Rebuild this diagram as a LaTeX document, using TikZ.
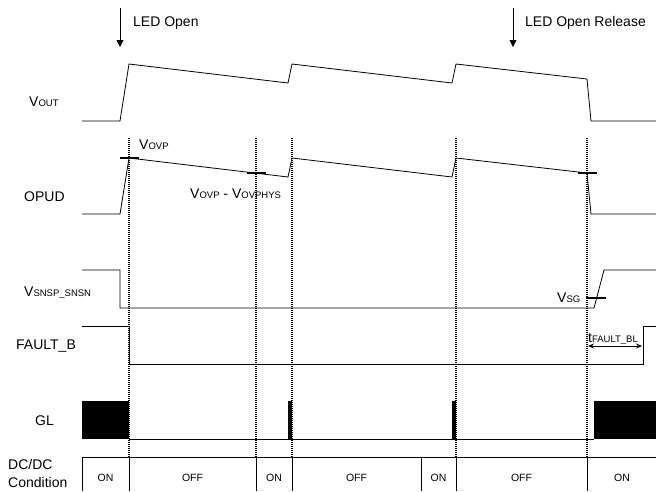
\documentclass[tikz,border=0pt]{standalone}
\usepackage{fontspec}
\setmainfont{Liberation Sans}
\usetikzlibrary{arrows.meta}
\newcommand{\sbs}[1]{{\fontsize{9.5}{10}\selectfont #1}}
\begin{document}
\begin{tikzpicture}[x=1pt,y=-1pt,
 wave/.style={line width=0.8pt},
 vline/.style={line width=1.5pt, dash pattern=on 1.2pt off 0.8pt},
 tickmark/.style={line width=1.5pt},
 lbl/.style={font=\fontsize{14}{16}\selectfont, anchor=base west, inner sep=0pt},
 cell/.style={font=\fontsize{10.5}{12}\selectfont, anchor=base, inner sep=0pt},
 tbl/.style={line width=0.7pt},
 evarrow/.style={line width=0.8pt, -{Triangle[length=7pt,width=7pt]}}]
\useasboundingbox (0,0) rectangle (656,491);

% event arrows
\coordinate (a1s) at (120,8); \coordinate (a1e) at (120,47);
\coordinate (a2s) at (513,8); \coordinate (a2e) at (513,47);
\draw[evarrow] (a1s) -- (a1e);
\draw[evarrow] (a2s) -- (a2e);
\node[lbl] (ledopen) at (133,26) {LED Open};
\node[lbl] (ledrel) at (525,26) {LED Open Release};

% signal labels
\node[lbl] (vout) at (29,106) {V\sbs{OUT}};
\node[lbl] (opud) at (24,201) {OPUD};
\node[lbl] (vsns) at (24,296) {V\sbs{SNSP\_SNSN}};
\node[lbl] (fault) at (16,349) {FAULT\_B};
\node[lbl] (gl) at (35,425) {GL};
\node[lbl] (dcdc) at (8,469) {DC/DC};
\node[lbl] (cond) at (8,487) {Condition};

% dotted time markers
\foreach \x in {129,256,292,456,587} \draw[vline] (\x,138) -- (\x,457);

% VOUT
\draw[wave] (82,121) -- (120,121) -- (129,64) -- (288,83) -- (292,64) -- (452,83) -- (456,64) -- (587,79) -- (591,121) -- (656,121);

% OPUD
\draw[wave] (82,214) -- (120,214) -- (129,158) -- (288,177) -- (292,158) -- (452,177) -- (456,158) -- (587,173) -- (591,214) -- (656,214);
\draw[tickmark] (120,158) -- (139,158);
\draw[tickmark] (247,173) -- (266,173);
\draw[tickmark] (578,173) -- (597,173);
\node[lbl] (vovp) at (139,149) {V\sbs{OVP}};
\node[lbl] (vhys) at (190,198) {V\sbs{OVP} - V\sbs{OVPHYS}};

% VSNSP_SNSN
\draw[wave] (82,270) -- (120,270) -- (120,308) -- (594,308) -- (604,270) -- (656,270);
\draw[tickmark] (586,298) -- (606,298);
\node[lbl] (vsg) at (557,302) {V\sbs{SG}};

% FAULT_B
\draw[wave] (82,326) -- (129,326) -- (129,364) -- (643,364) -- (643,326) -- (656,326);
\coordinate (tbs) at (588,346); \coordinate (tbe) at (642,346);
\draw[line width=0.8pt, {Stealth[length=6pt,width=5pt]}-{Stealth[length=6pt,width=5pt]}] (tbs) -- (tbe);
\node[lbl] (tfb) at (588,342) {t\sbs{FAULT\_BL}};

% GL
\fill (82,401) rectangle (129,439);
\fill (288,401) rectangle (292,439);
\fill (452,401) rectangle (456,439);
\fill (594,401) rectangle (656,439);
\draw[wave] (129,439) -- (594,439);

% DC/DC condition table
\draw[tbl] (82,491) -- (82,457) -- (656,457);
\foreach \x in {129,256,292,421,456,587} \draw[tbl] (\x,457) -- (\x,491);
\node[cell] (c1) at (105.5,481) {ON};
\node[cell] (c2) at (192.5,481) {OFF};
\node[cell] (c3) at (274,481) {ON};
\node[cell] (c4) at (356.5,481) {OFF};
\node[cell] (c5) at (438.5,481) {ON};
\node[cell] (c6) at (521.5,481) {OFF};
\node[cell] (c7) at (622,481) {ON};
\end{tikzpicture}
\end{document}
